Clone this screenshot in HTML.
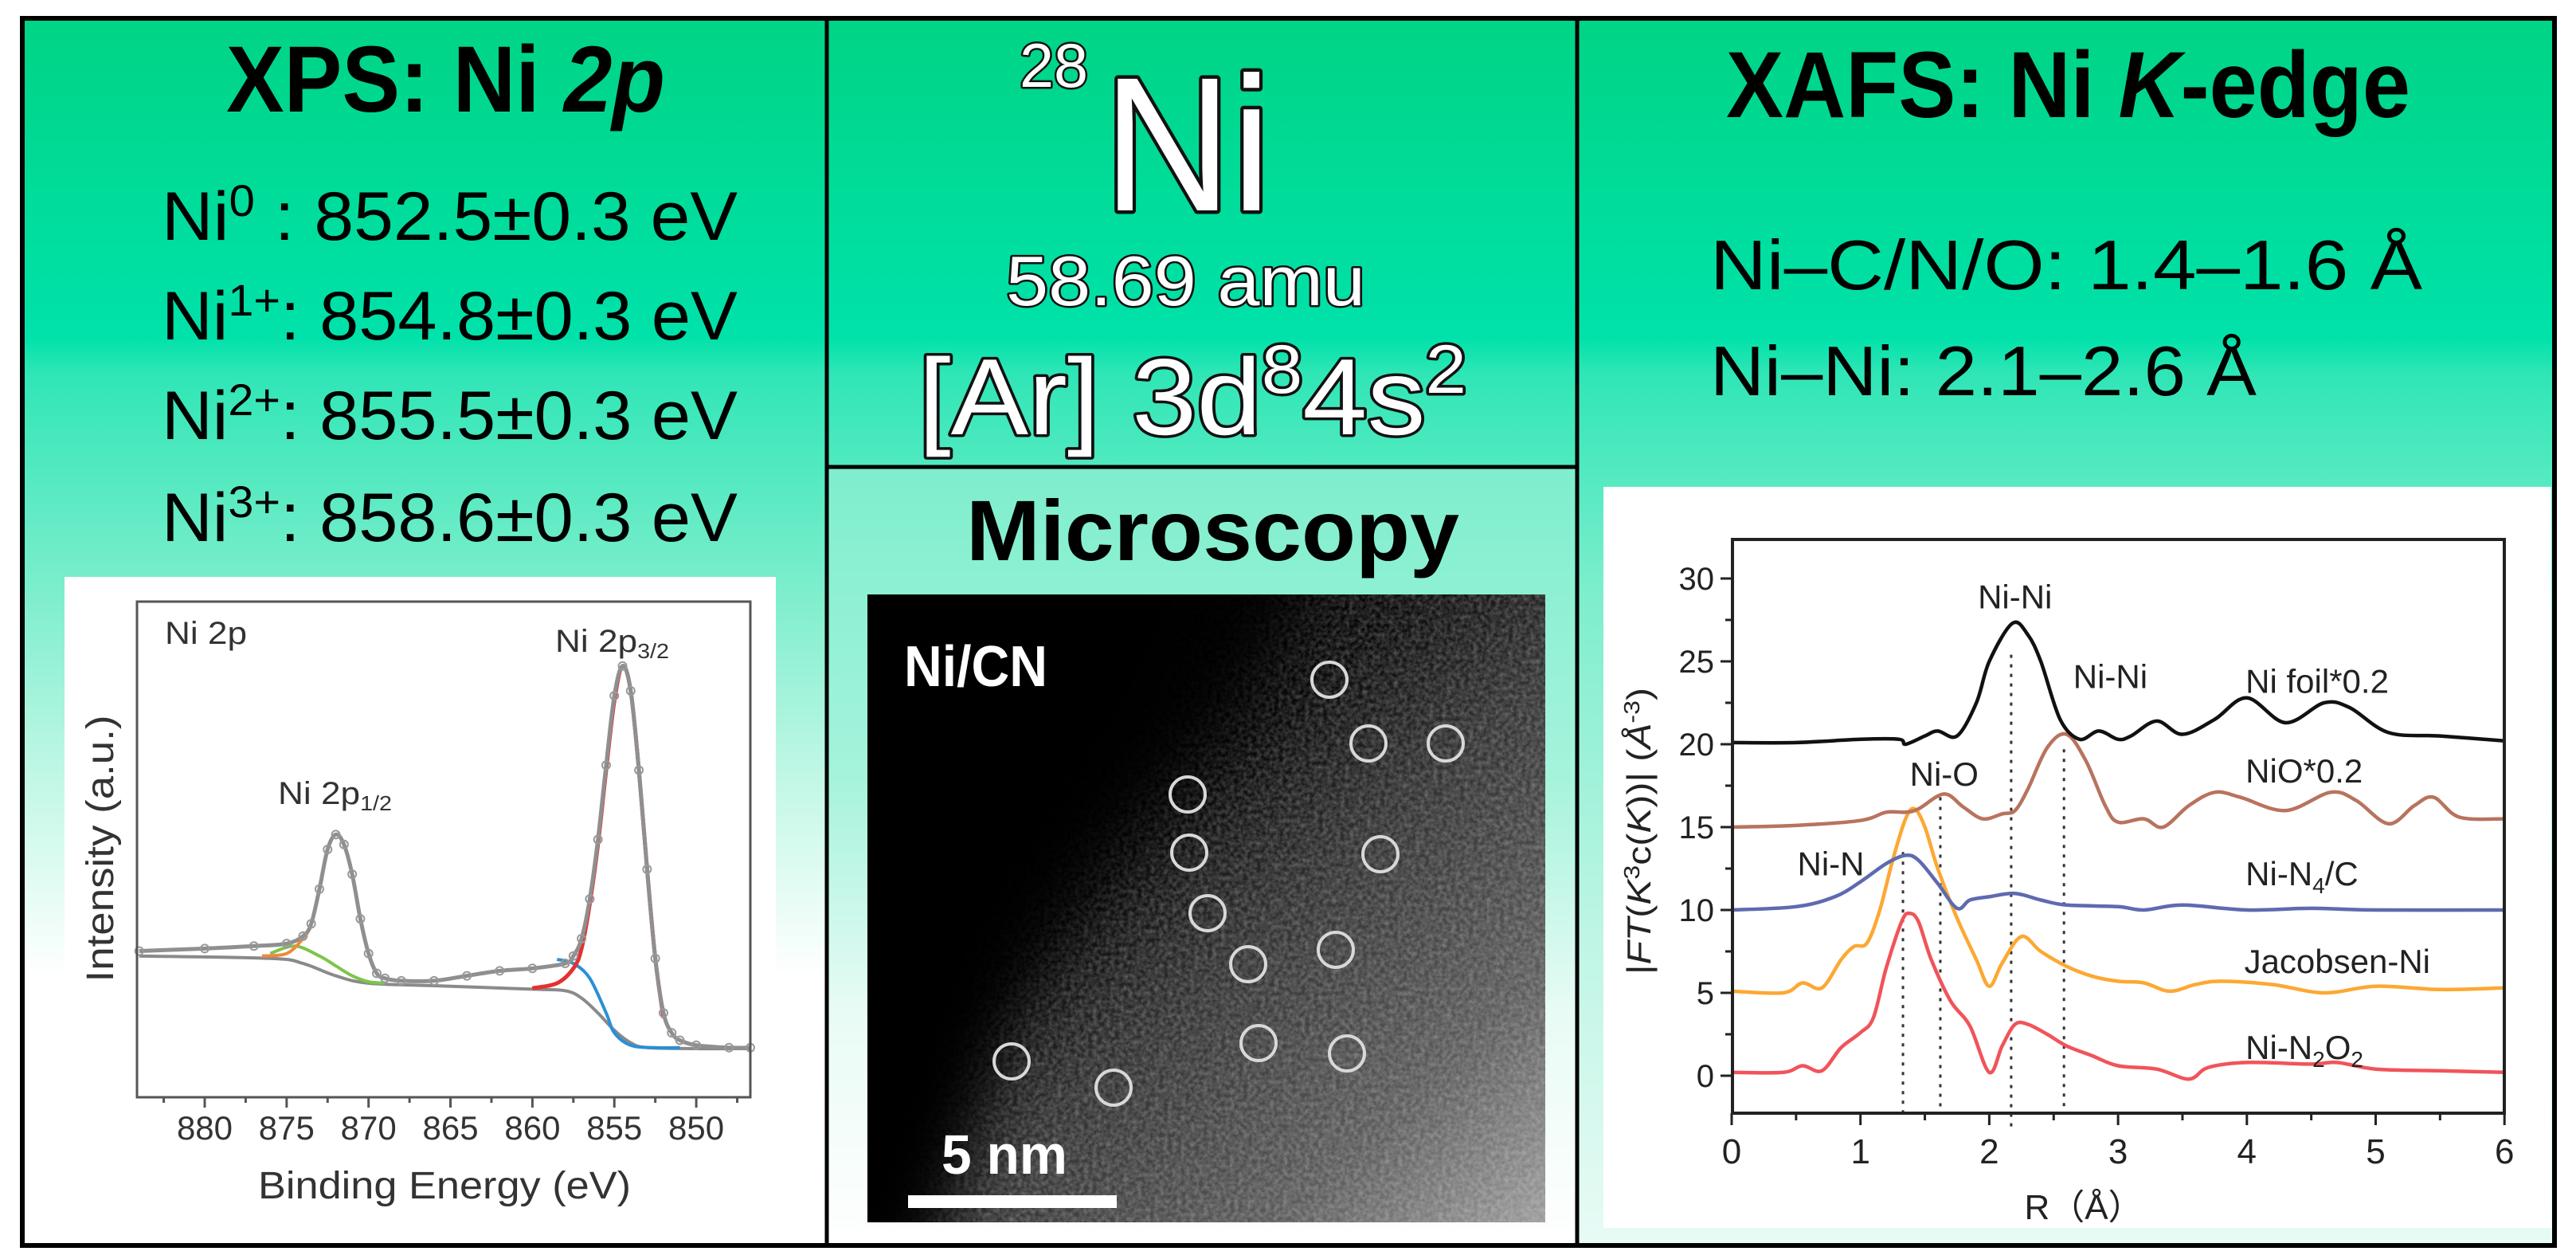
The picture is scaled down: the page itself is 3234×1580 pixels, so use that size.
<!DOCTYPE html>
<html><head><meta charset="utf-8"><style>
html,body{margin:0;padding:0;background:#fff;}
svg{display:block;}
text{font-family:"Liberation Sans",sans-serif;}
</style></head><body>
<svg id="root" xmlns="http://www.w3.org/2000/svg" width="3234" height="1580" viewBox="0 0 3234 1580">
<defs>
<linearGradient id="bg" x1="0" y1="0" x2="0" y2="1">
<stop offset="0" stop-color="#00d485"/>
<stop offset="0.26" stop-color="#00e2aa"/>
<stop offset="0.29" stop-color="#30e6b6"/>
<stop offset="0.47" stop-color="#7eeecd"/>
<stop offset="0.62" stop-color="#c2f7e6"/>
<stop offset="0.78" stop-color="#ffffff"/>
<stop offset="1" stop-color="#ffffff"/>
</linearGradient>
<linearGradient id="bgr" x1="0" y1="0" x2="0" y2="1">
<stop offset="0" stop-color="#00d485"/>
<stop offset="0.26" stop-color="#00e2aa"/>
<stop offset="0.29" stop-color="#30e6b6"/>
<stop offset="0.47" stop-color="#7eeecd"/>
<stop offset="0.75" stop-color="#bff5e5"/>
<stop offset="1" stop-color="#e8fbf5"/>
</linearGradient>
<linearGradient id="bgm" x1="0" y1="0" x2="0" y2="1">
<stop offset="0" stop-color="#7eeecd"/>
<stop offset="0.4" stop-color="#a6f3dc"/>
<stop offset="0.7" stop-color="#e8fbf5"/>
<stop offset="1" stop-color="#ffffff"/>
</linearGradient>
<linearGradient id="stem" x1="0" y1="0" x2="1" y2="1">
<stop offset="0" stop-color="#000"/>
<stop offset="0.4" stop-color="#080808"/>
<stop offset="0.55" stop-color="#2e2e2e"/>
<stop offset="0.8" stop-color="#5a5a5a"/>
<stop offset="1" stop-color="#9a9a9a"/>
</linearGradient>
<filter id="noise" x="0" y="0" width="100%" height="100%">
<feTurbulence type="fractalNoise" baseFrequency="0.18" numOctaves="2" seed="4"/>
<feColorMatrix type="matrix" values="0 0 0 0 1  0 0 0 0 1  0 0 0 0 1  0 0 0 0.45 -0.12"/>
</filter>
<filter id="soft" x="-20%" y="-20%" width="140%" height="140%"><feGaussianBlur stdDeviation="45"/></filter>
<clipPath id="stemclip"><rect x="1089" y="746" width="851" height="788"/></clipPath>
</defs>

<rect x="28" y="23" width="1010" height="1540" fill="url(#bg)"/>
<rect x="1038" y="23" width="942" height="1540" fill="url(#bg)"/>
<rect x="1980" y="23" width="1227" height="1540" fill="url(#bgr)"/>

<text x="284" y="140" font-size="118" font-weight="bold" textLength="551" lengthAdjust="spacingAndGlyphs">XPS: Ni <tspan font-style="italic">2p</tspan></text>
<g font-size="86">
<text x="203" y="301" textLength="723" lengthAdjust="spacingAndGlyphs">Ni<tspan font-size="56" dy="-30">0</tspan><tspan dy="30"> : 852.5±0.3 eV</tspan></text>
<text x="203" y="426" textLength="723" lengthAdjust="spacingAndGlyphs">Ni<tspan font-size="56" dy="-30">1+</tspan><tspan dy="30">: 854.8±0.3 eV</tspan></text>
<text x="203" y="551" textLength="723" lengthAdjust="spacingAndGlyphs">Ni<tspan font-size="56" dy="-30">2+</tspan><tspan dy="30">: 855.5±0.3 eV</tspan></text>
<text x="203" y="679" textLength="723" lengthAdjust="spacingAndGlyphs">Ni<tspan font-size="56" dy="-30">3+</tspan><tspan dy="30">: 858.6±0.3 eV</tspan></text>
</g>
<rect x="81" y="724" width="893" height="826" fill="#fff"/>
<g id="xps"></g>

<g fill="#fff" stroke="#111" stroke-width="5" paint-order="stroke" stroke-linejoin="round">
<text x="1280" y="109" font-size="78" textLength="86" lengthAdjust="spacingAndGlyphs">28</text>
<text x="1385" y="264" font-size="240" stroke-width="9" textLength="211" lengthAdjust="spacingAndGlyphs">Ni</text>
<text x="1263" y="383" font-size="88" textLength="451" lengthAdjust="spacingAndGlyphs">58.69 amu</text>
<text x="1153" y="545" font-size="136" stroke-width="7" textLength="688" lengthAdjust="spacingAndGlyphs">[Ar] 3d<tspan font-size="86" dy="-52">8</tspan><tspan dy="52">4s</tspan><tspan font-size="86" dy="-52">2</tspan></text>
</g>
<rect x="1038" y="586" width="942" height="977" fill="url(#bgm)"/>
<text x="1213" y="703" font-size="108" font-weight="bold" textLength="619" lengthAdjust="spacingAndGlyphs">Microscopy</text>
<g clip-path="url(#stemclip)">
<rect x="1089" y="746" width="851" height="788" fill="url(#stem)"/>
<rect x="1089" y="746" width="851" height="788" filter="url(#noise)"/>
<polygon points="900,600 1720,600 1560,900 1400,1080 1240,1300 1130,1600 900,1600" fill="#000" opacity="0.95" filter="url(#soft)"/>
<polygon points="900,600 1540,600 1400,900 1260,1150 1150,1600 900,1600" fill="#000" filter="url(#soft)"/>
</g>
<g id="atoms" fill="none" stroke="#d8d8d8" stroke-width="4"></g>
<text x="1135" y="861" font-size="72" font-weight="bold" fill="#fff" textLength="180" lengthAdjust="spacingAndGlyphs">Ni/CN</text>
<text x="1182" y="1473" font-size="70" font-weight="bold" fill="#fff" textLength="158" lengthAdjust="spacingAndGlyphs">5 nm</text>
<rect x="1140" y="1500" width="262" height="16" fill="#fff"/>

<text x="2167" y="147" font-size="118" font-weight="bold" textLength="859" lengthAdjust="spacingAndGlyphs">XAFS: Ni <tspan font-style="italic">K</tspan>-edge</text>
<text x="2147" y="363" font-size="88" textLength="894" lengthAdjust="spacingAndGlyphs">Ni–C/N/O:  1.4–1.6 Å</text>
<text x="2147" y="496" font-size="88" textLength="686" lengthAdjust="spacingAndGlyphs">Ni–Ni: 2.1–2.6 Å</text>
<rect x="2013" y="611" width="1190" height="930" fill="#fff"/>
<g id="xafs"></g>

<g stroke="#000" fill="none">
<rect x="28" y="23" width="3179" height="1540" stroke-width="6"/>
<line x1="1038" y1="23" x2="1038" y2="1563" stroke-width="5"/>
<line x1="1980" y1="23" x2="1980" y2="1563" stroke-width="5"/>
<line x1="1038" y1="586" x2="1980" y2="586" stroke-width="5"/>
</g>
</svg>
<script>
const xpsTicks = [880, 875, 870, 865, 860, 855, 850];
const xpsEnvE = [884,880,877,875,874,873.5,873,872.5,872,871.5,871,870.5,870,869.5,869,868,866,864,862,860,858,857.5,857,856.5,856,855.5,855,854.5,854,853.5,853,852.5,852,851.5,851,850,848,846.7];
const xpsEnvI = [29.5,30,30.5,31,32.5,35,42,50,53,51,45,36,29,25,24,23.5,23.5,24.5,25.5,26,27,28.5,32,40,52,67,81,87,82,66,46,28,17,13,11.5,10.5,10,10];
const xpsBgE = [884,876,874,872,870,866,860,858,857,856,855,854,853,850,846.7];
const xpsBgI = [28.5,28,27,24.5,23,22.5,21.8,21.5,20,17,13.5,11,10,9.8,9.8];
const xpsGreenE = [876,874.5,873,872,871,870,869];
const xpsGreenI = [29,30.5,28.5,26.5,24.5,23.3,23];
const xpsOrangeE = [876.5,875,874,873.5];
const xpsOrangeI = [28.5,29,32,34.5];
const xpsRedE = [860,858.5,857.5,857,856.5,856,855.5,855,854.5,854,853.5,853,852.5,852];
const xpsRedI = [22,23,26,30,39,51,66,80,87,82,66,46,28,16];
const xpsBlueE = [858.5,857.5,856.5,855.5,855,854,852.5,851];
const xpsBlueI = [27.8,27,24,17,13,10.5,10,10];

const xafsXTicks = [0,1,2,3,4,5,6];
const xafsYTicks = [0,5,10,15,20,25,30];
const foilR = [0,0.5,1.0,1.3,1.35,1.5,1.6,1.75,1.9,2.0,2.18,2.3,2.4,2.55,2.7,2.85,3.0,3.1,3.3,3.5,3.75,4.0,4.3,4.6,4.8,5.1,5.5,6];
const foilV = [20.1,20.1,20.3,20.3,20.0,20.5,20.8,20.5,22.5,25,27.3,26.6,25,21.5,20.3,20.8,20.3,20.5,21.4,20.6,21.5,22.8,21.3,22.5,22.2,20.7,20.5,20.2];
const nioR = [0,0.5,1.0,1.2,1.35,1.45,1.65,1.8,1.95,2.1,2.2,2.3,2.45,2.6,2.75,2.9,3.0,3.2,3.35,3.55,3.75,3.95,4.3,4.65,4.85,5.1,5.3,5.45,5.65,6];
const nioV = [15,15.1,15.4,15.9,15.9,16.1,17,16.2,15.5,15.8,16.0,17.3,19.8,20.6,19,16.3,15.3,15.5,15.0,16.3,17.1,16.8,16.0,17.1,16.6,15.2,16.3,16.8,15.6,15.5];
const n4cR = [0,0.5,0.8,1.0,1.2,1.35,1.45,1.6,1.75,1.85,2.0,2.2,2.4,2.6,3.0,3.2,3.5,4.0,4.5,5,6];
const n4cV = [10,10.2,10.8,11.7,12.8,13.3,13.0,11.6,10.1,10.6,10.8,11.0,10.6,10.3,10.2,10.0,10.3,10.0,10.1,10,10];
const jacR = [0,0.4,0.55,0.7,0.85,0.95,1.05,1.15,1.25,1.35,1.42,1.5,1.6,1.75,1.9,2.0,2.1,2.25,2.4,2.6,2.8,3.0,3.2,3.4,3.6,3.8,4.2,4.6,5.0,5.5,6];
const jacV = [5.1,5.0,5.6,5.3,7.0,7.8,8.0,10,13,15.5,16.1,15.0,12.5,9.5,7.0,5.4,6.8,8.4,7.5,6.6,6.0,5.7,5.6,5.1,5.5,5.7,5.5,5.0,5.4,5.2,5.3];
const n2o2R = [0,0.4,0.55,0.7,0.85,1.0,1.1,1.2,1.32,1.38,1.45,1.55,1.7,1.85,2.0,2.1,2.2,2.3,2.45,2.6,2.8,3.0,3.3,3.55,3.7,4.0,4.5,4.7,5.0,5.5,6];
const n2o2V = [0.2,0.2,0.6,0.3,1.7,2.6,3.5,6.5,9.3,9.8,9.3,7.0,4.5,3.0,0.2,1.8,3.1,3.1,2.5,1.8,1.2,0.6,0.4,-0.2,0.5,0.8,0.7,0.8,0.4,0.3,0.2];
const dropR = [1.33,1.62,2.17,2.58];
const dropTop = [13.5,16.8,25.4,19.7];

const atomX = [1669,1718,1815,1491,1493,1733,1516,1567,1677,1270,1398,1580,1691];
const atomY = [853,933,933,997,1070,1072,1146,1210,1192,1332,1365,1309,1322];

const NS = 'http://www.w3.org/2000/svg';
function mk(tag, attrs, parent){const e=document.createElementNS(NS,tag);for(const k in attrs)e.setAttribute(k,attrs[k]);parent.appendChild(e);return e;}
function smooth(P){
  let d='M'+P[0][0].toFixed(1)+','+P[0][1].toFixed(1);
  for(let i=0;i<P.length-1;i++){
    const p0=P[Math.max(0,i-1)],p1=P[i],p2=P[i+1],p3=P[Math.min(P.length-1,i+2)];
    const c1=[p1[0]+(p2[0]-p0[0])/6,p1[1]+(p2[1]-p0[1])/6];
    const c2=[p2[0]-(p3[0]-p1[0])/6,p2[1]-(p3[1]-p1[1])/6];
    d+='C'+c1[0].toFixed(1)+','+c1[1].toFixed(1)+' '+c2[0].toFixed(1)+','+c2[1].toFixed(1)+' '+p2[0].toFixed(1)+','+p2[1].toFixed(1);
  }
  return d;
}

const xg = document.getElementById('xps');
const xE = e => 257 + (880 - e) * 20.57;
const yI = i => 1377 - i * 6.22;
function xpsPath(E, I, color, name, w){
  const d = smooth(E.map((e,k)=>[xE(e),yI(I[k])]));
  const p = mk('path',{d:d,fill:'none',stroke:color,'stroke-width':w,'stroke-linejoin':'round'},xg);
  
  
}
xpsPath(xpsBgE,xpsBgI,'#8a8a8a','xps-background-line',4);
xpsPath(xpsGreenE,xpsGreenI,'#7cc64a','xps-ni2p12-satellite',4);
xpsPath(xpsOrangeE,xpsOrangeI,'#f08a3c','xps-ni2p12-component',4);
xpsPath(xpsBlueE,xpsBlueI,'#2a8fd6','xps-satellite-component',4);
xpsPath(xpsRedE,xpsRedI,'#e53030','xps-ni2p32-component',5);
xpsPath(xpsEnvE,xpsEnvI,'#8f8f8f','xps-envelope',5);
xpsEnvE.forEach((e,k)=>{
  const c = mk('circle',{cx:xE(e),cy:yI(xpsEnvI[k]),r:5,fill:'none',stroke:'#999','stroke-width':2},xg);
  
  
});
const xf = mk('rect',{x:172,y:755,width:770,height:622,fill:'none',stroke:'#555','stroke-width':3},xg);


xpsTicks.forEach(t=>{
  mk('line',{x1:xE(t),y1:1377,x2:xE(t),y2:1390,stroke:'#555','stroke-width':3},xg);
  mk('line',{x1:xE(t-2.5),y1:1377,x2:xE(t-2.5),y2:1384,stroke:'#555','stroke-width':3},xg);
  const tl = mk('text',{x:xE(t),y:1430,'font-size':42,'text-anchor':'middle',fill:'#333'},xg);
  tl.textContent = t;
  
  
});
mk('line',{x1:xE(882.5),y1:1377,x2:xE(882.5),y2:1384,stroke:'#555','stroke-width':3},xg);
function xlabel(x,y,size,txt,name,sub,len){
  const t = mk('text',{x:x,y:y,'font-size':size,fill:'#333'},xg);
  t.textContent = txt;
  if(sub){const s=mk('tspan',{'font-size':size*0.65,dy:size*0.2},t);s.textContent=sub;}
  if(len){t.setAttribute('textLength',len);t.setAttribute('lengthAdjust','spacingAndGlyphs');}
  
  
  return t;
}
xlabel(207,808,40,'Ni 2p','xps-panel-label',null,103);
xlabel(349,1009,40,'Ni 2p','xps-ni2p12-label','1/2',143);
xlabel(697,818,40,'Ni 2p','xps-ni2p32-label','3/2',143);
xlabel(324,1504,48,'Binding Energy (eV)','xps-x-axis-title',null,468);
const yt = mk('text',{x:0,y:0,'font-size':48,fill:'#333','text-anchor':'middle',transform:'translate(142,1065) rotate(-90)',textLength:335,lengthAdjust:'spacingAndGlyphs'},xg);
yt.textContent = 'Intensity (a.u.)';



const ag = document.getElementById('atoms');
atomX.forEach((x,k)=>{
  const c = mk('circle',{cx:x,cy:atomY[k],r:22},ag);
  
  
});

const fg = document.getElementById('xafs');
const xR = r => 2174 + r * 161.7;
const yV = v => 1350 - v * 20.8;
dropR.forEach((r,k)=>{
  const l = mk('line',{x1:xR(r),y1:yV(dropTop[k]),x2:xR(r),y2:(k==2?1418:1397),stroke:'#333','stroke-width':3,'stroke-dasharray':'4 8'},fg);
  
  
});
function fpath(R,V,color,name){
  const d = smooth(R.map((r,k)=>[xR(r),yV(V[k])]));
  const p = mk('path',{d:d,fill:'none',stroke:color,'stroke-width':4.5,'stroke-linejoin':'round'},fg);
  
  
}
fpath(n2o2R,n2o2V,'#f0545a','ni-n2o2-curve');
fpath(jacR,jacV,'#fca833','jacobsen-ni-curve');
fpath(n4cR,n4cV,'#5e6ab0','ni-n4c-curve');
fpath(nioR,nioV,'#b8735e','nio-curve');
fpath(foilR,foilV,'#111','ni-foil-curve');
const ff = mk('rect',{x:2175,y:677,width:969,height:720,fill:'none',stroke:'#222','stroke-width':4},fg);


xafsXTicks.forEach(t=>{
  mk('line',{x1:xR(t),y1:1397,x2:xR(t),y2:1412,stroke:'#222','stroke-width':3},fg);
  if(t<6) mk('line',{x1:xR(t+0.5),y1:1397,x2:xR(t+0.5),y2:1406,stroke:'#222','stroke-width':3},fg);
  const tl = mk('text',{x:xR(t),y:1460,'font-size':44,'text-anchor':'middle',fill:'#222'},fg);
  tl.textContent = t;
  
  
});
xafsYTicks.forEach(t=>{
  mk('line',{x1:2160,y1:yV(t),x2:2175,y2:yV(t),stroke:'#222','stroke-width':3},fg);
  if(t<30) mk('line',{x1:2166,y1:yV(t+2.5),x2:2175,y2:yV(t+2.5),stroke:'#222','stroke-width':3},fg);
  const tl = mk('text',{x:2152,y:yV(t)+14,'font-size':40,'text-anchor':'end',fill:'#222'},fg);
  tl.textContent = t;
  
  
});
function flabel(r,v,txt,name,sub,tail,anchor){
  const t = mk('text',{x:xR(r),y:yV(v),'font-size':42,fill:'#222','text-anchor':anchor||'start'},fg);
  t.textContent = txt;
  if(sub){const s=mk('tspan',{'font-size':28,dy:10},t);s.textContent=sub;
    if(tail){const s2=mk('tspan',{dy:-10},t);s2.textContent=tail;}}
  
  
}
flabel(2.2,28.2,'Ni-Ni','ni-ni-label-foil',null,null,'middle');
flabel(2.94,23.4,'Ni-Ni','ni-ni-label-nio',null,null,'middle');
flabel(3.99,23.1,'Ni foil*0.2','ni-foil-label');
flabel(3.99,17.7,'NiO*0.2','nio-label');
flabel(1.65,17.5,'Ni-O','ni-o-label',null,null,'middle');
flabel(0.77,12.1,'Ni-N','ni-n-label',null,null,'middle');
flabel(3.99,11.5,'Ni-N','ni-n4c-label','4','/C');
flabel(3.98,6.2,'Jacobsen-Ni','jacobsen-ni-label');
const n2 = mk('text',{x:xR(3.99),y:yV(1.0),'font-size':42,fill:'#222'},fg);
n2.innerHTML = 'Ni-N<tspan font-size="28" dy="10">2</tspan><tspan dy="-10">O</tspan><tspan font-size="28" dy="10">2</tspan>';


const rt = mk('text',{x:2616,y:1530,'font-size':44,fill:'#222','text-anchor':'middle'},fg);
rt.textContent = 'R（Å）';


const ft = mk('text',{x:0,y:0,'font-size':42,fill:'#222','text-anchor':'middle',transform:'translate(2072,1043) rotate(-90)',textLength:360,lengthAdjust:'spacingAndGlyphs'},fg);
ft.innerHTML = '|<tspan font-style="italic">FT</tspan>(<tspan font-style="italic">K</tspan><tspan font-size="28" dy="-14">3</tspan><tspan dy="14">c(</tspan><tspan font-style="italic">K</tspan>))| (<tspan font-style="italic">Å</tspan><tspan font-size="28" dy="-14">-3</tspan><tspan dy="14">)</tspan>';


</script>
</body></html>
